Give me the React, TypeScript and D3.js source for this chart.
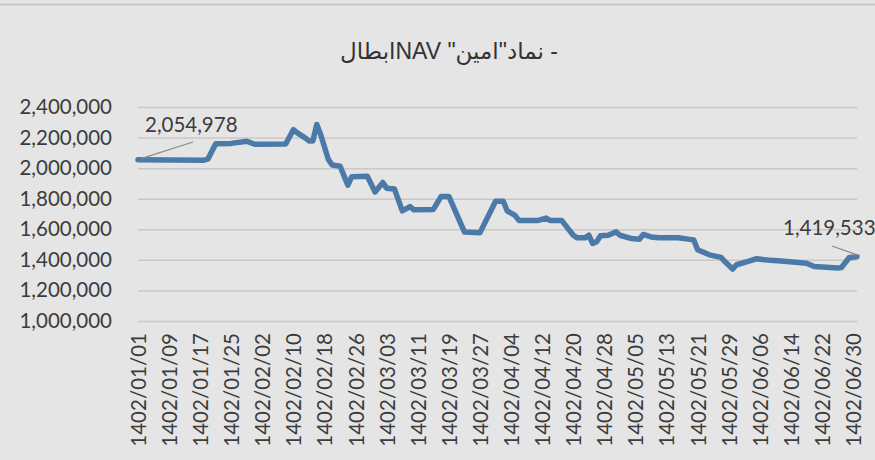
import React, { useEffect, useRef } from 'react'
import * as d3 from 'd3'

// NAV series (only the turning points, dates in the 1402 calendar)
const navDates = [
    '1402/01/01', '1402/01/18', '1402/01/19', '1402/01/21', '1402/01/25', '1402/01/29', '1402/01/31',
    '1402/02/08', '1402/02/10', '1402/02/11', '1402/02/13', '1402/02/14', '1402/02/15', '1402/02/16',
    '1402/02/17', '1402/02/19', '1402/02/20', '1402/02/22', '1402/02/24', '1402/02/25', '1402/02/29', '1402/02/31',
    '1402/03/02', '1402/03/03', '1402/03/05', '1402/03/07', '1402/03/09', '1402/03/10', '1402/03/15',
    '1402/03/17', '1402/03/19', '1402/03/23', '1402/03/27', '1402/03/31',
    '1402/04/02', '1402/04/03', '1402/04/05', '1402/04/06', '1402/04/11', '1402/04/13', '1402/04/14',
    '1402/04/17', '1402/04/20', '1402/04/21', '1402/04/23', '1402/04/24', '1402/04/25', '1402/04/26',
    '1402/04/27', '1402/04/29', '1402/04/31',
    '1402/05/01', '1402/05/04', '1402/05/06', '1402/05/07', '1402/05/09', '1402/05/11', '1402/05/16',
    '1402/05/19', '1402/05/20', '1402/05/21', '1402/05/24', '1402/05/27', '1402/05/28', '1402/05/30', '1402/05/31',
    '1402/06/03', '1402/06/05', '1402/06/08', '1402/06/13', '1402/06/18', '1402/06/20', '1402/06/26',
    '1402/06/27', '1402/06/29', '1402/06/31'
]

const navValues = [
    2054978, 2052000, 2060000, 2160000, 2162000, 2176000, 2156000,
    2158000, 2252000, 2231000, 2198000, 2178000, 2178000, 2286000,
    2220000, 2055000, 2020000, 2012000, 1889000, 1944000, 1947000, 1844000,
    1906000, 1869000, 1863000, 1720000, 1748000, 1727000, 1730000,
    1815000, 1815000, 1582000, 1578000, 1784000,
    1784000, 1720000, 1691000, 1658000, 1658000, 1673000, 1658000,
    1658000, 1561000, 1544000, 1544000, 1561000, 1507000, 1518000,
    1557000, 1561000, 1583000,
    1561000, 1539000, 1535000, 1566000, 1550000, 1544000, 1545000,
    1534000, 1530000, 1466000, 1433000, 1416000, 1389000, 1340000, 1368000,
    1390000, 1407000, 1399000, 1389000, 1378000, 1357000, 1346000,
    1350000, 1415000, 1419533
]

const xTickLabels = [
    '1402/01/01', '1402/01/09', '1402/01/17', '1402/01/25', '1402/02/02', '1402/02/10',
    '1402/02/18', '1402/02/26', '1402/03/03', '1402/03/11', '1402/03/19', '1402/03/27',
    '1402/04/04', '1402/04/12', '1402/04/20', '1402/04/28', '1402/05/05', '1402/05/13',
    '1402/05/21', '1402/05/29', '1402/06/06', '1402/06/14', '1402/06/22', '1402/06/30'
]

const yTicks = [1000000, 1200000, 1400000, 1600000, 1800000, 2000000, 2200000, 2400000]

const title = '- نماد"امین" NAVابطال'

// first six months of the year have 31 days each
const dayIndex = (date: string) => {
    const [, m, d] = date.split('/').map(Number)
    return (m - 1) * 31 + (d - 1)
}

export default function App() {
    const svgRef = useRef<SVGSVGElement>(null)

    useEffect(() => {
        const width = 875
        const height = 460
        const left = 138
        const right = 857
        const top = 107
        const bottom = 321
        const fontFamily = 'Lato, "Open Sans", sans-serif'

        const svg = d3.select(svgRef.current)
            .attr('width', width)
            .attr('height', height)
        svg.selectAll('*').remove()

        svg.append('rect').attr('width', width).attr('height', height).attr('fill', '#e5e5e5')
        svg.append('line')
            .attr('x1', 0).attr('x2', width).attr('y1', 4.5).attr('y2', 4.5)
            .attr('stroke', '#c6c6c6').attr('stroke-width', 2)

        const data = navDates.map((d, i) => ({ day: dayIndex(d), value: navValues[i] }))

        const xScale = d3.scaleLinear()
            .domain([0, dayIndex(navDates[navDates.length - 1])])
            .range([left, right])

        const yScale = d3.scaleLinear()
            .domain([1000000, 2400000])
            .range([bottom, top])

        // y axis with gridlines
        const gy = svg.append('g')
            .attr('transform', `translate(${left},0)`)
            .call(d3.axisLeft(yScale)
                .tickValues(yTicks)
                .tickFormat(d3.format(','))
                .tickSize(-(right - left))
                .tickPadding(26))
        gy.select('.domain').remove()
        gy.selectAll('.tick line').attr('stroke', '#c8c8c8').attr('stroke-width', 1.5)
        gy.selectAll('.tick text')
            .attr('fill', '#3c3c3c')
            .style('font-family', fontFamily)
            .style('font-size', '20.5px')

        // x axis, rotated date labels
        const gx = svg.append('g')
            .attr('transform', `translate(0,${bottom})`)
            .call(d3.axisBottom(xScale)
                .tickValues(xTickLabels.map(dayIndex))
                .tickFormat((_, i) => xTickLabels[i])
                .tickSize(0))
        gx.select('.domain').remove()
        gx.selectAll('.tick text')
            .attr('transform', 'rotate(-90)')
            .attr('text-anchor', 'end')
            .attr('x', -12)
            .attr('y', 0)
            .attr('dy', '0.36em')
            .attr('fill', '#3c3c3c')
            .style('font-family', fontFamily)
            .style('font-size', '20.5px')

        // the NAV line
        const line = d3.line<{ day: number, value: number }>()
            .x(d => xScale(d.day))
            .y(d => yScale(d.value))

        svg.append('path')
            .datum(data)
            .attr('d', line)
            .attr('fill', 'none')
            .attr('stroke', '#4b7aa9')
            .attr('stroke-width', 5.5)
            .attr('stroke-linejoin', 'round')
            .attr('stroke-linecap', 'round')

        // data labels on first and last points, with leader lines
        const first = data[0]
        const last = data[data.length - 1]
        const labels = [
            { point: first, tx: 145, ty: 132, lx: 193, ly: 142 },
            { point: last, tx: 783, ty: 235, lx: 832, ly: 246 }
        ]
        labels.forEach(l => {
            svg.append('line')
                .attr('x1', xScale(l.point.day) + 3).attr('y1', yScale(l.point.value) - 1)
                .attr('x2', l.lx).attr('y2', l.ly)
                .attr('stroke', '#8a8a8a').attr('stroke-width', 1.3)
            svg.append('text')
                .attr('x', l.tx).attr('y', l.ty)
                .attr('fill', '#3c3c3c')
                .style('font-family', fontFamily)
                .style('font-size', '20.5px')
                .text(d3.format(',')(l.point.value))
        })

        svg.append('text')
            .attr('x', 449)
            .attr('y', 59)
            .attr('text-anchor', 'middle')
            .attr('direction', 'rtl')
            .attr('fill', '#333333')
            .style('font-family', '"Liberation Sans", "DejaVu Sans", sans-serif')
            .style('font-size', '23px')
            .text(title)
    }, [])

    return (
        <div style={{ position: 'fixed', left: 0, top: 0 }}>
            <svg ref={svgRef} style={{ display: 'block' }}></svg>
        </div>
    )
}
